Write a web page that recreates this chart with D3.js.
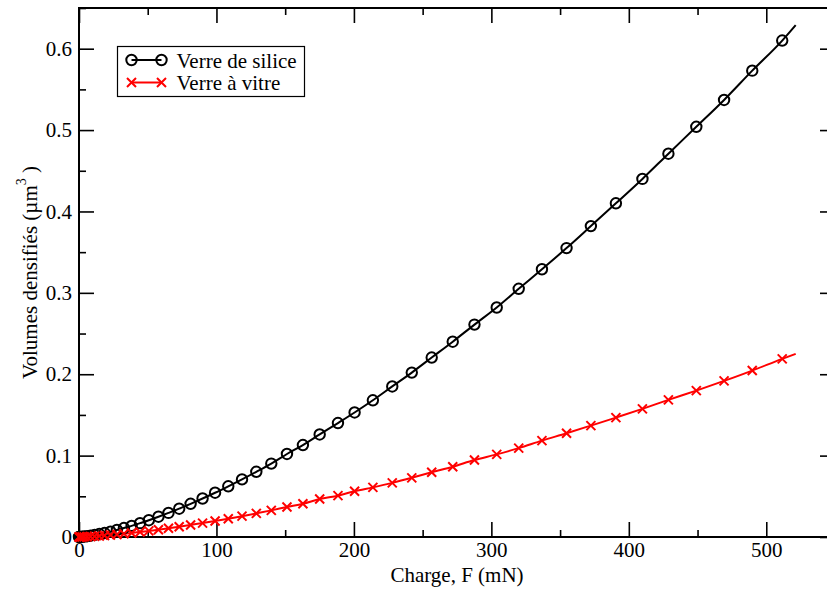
<!DOCTYPE html>
<html>
<head>
<meta charset="utf-8">
<script src="https://cdn.jsdelivr.net/npm/d3@7"></script>
<style>
  html, body { margin: 0; padding: 0; background: #fff; }
  svg { display: block; }
  svg text { font-family: "Liberation Serif", "DejaVu Serif", serif; }
</style>
</head>
<body>
<svg id="chart" width="827" height="589"></svg>
<script>
// Charge F (mN) at each measured point
const forceMN = [0, 0.3, 1.0, 2.2, 3.8, 5.9, 8.4, 11.4, 14.8, 18.6, 22.9, 27.6, 32.7, 38.3, 44.4, 50.8, 57.8, 65.1, 72.9, 81.2, 89.9, 99.0, 108.6, 118.6, 129.0, 139.9, 151.3, 162.9, 175.1, 188.4, 200.5, 213.8, 227.9, 242.1, 256.6, 271.9, 287.7, 303.9, 319.9, 336.8, 354.7, 372.4, 390.6, 409.9, 428.8, 449.1, 469.3, 489.8, 511.6];
// Volumes densifiés (µm³)
const silicaVolume = [0, 0.00002, 0.0001, 0.00026, 0.00055, 0.00099, 0.0016, 0.0025, 0.0036, 0.0049, 0.0066, 0.0086, 0.0110, 0.0137, 0.0170, 0.0206, 0.0249, 0.0296, 0.0348, 0.0408, 0.0473, 0.0544, 0.0623, 0.0708, 0.0801, 0.0902, 0.102, 0.113, 0.126, 0.140, 0.153, 0.168, 0.185, 0.202, 0.2205, 0.240, 0.261, 0.282, 0.305, 0.329, 0.355, 0.382, 0.410, 0.440, 0.471, 0.504, 0.537, 0.573, 0.610];
const windowVolume = [0, 0.00001, 0.00004, 0.0001, 0.0002, 0.00036, 0.00058, 0.0009, 0.0013, 0.0018, 0.0024, 0.0031, 0.0040, 0.0050, 0.0062, 0.0075, 0.0090, 0.0107, 0.0126, 0.0148, 0.0171, 0.0197, 0.0225, 0.0256, 0.0290, 0.0327, 0.0369, 0.0409, 0.0466, 0.0508, 0.0562, 0.0610, 0.0665, 0.0727, 0.0795, 0.0864, 0.0946, 0.1015, 0.1092, 0.1184, 0.1275, 0.1369, 0.1467, 0.1574, 0.1685, 0.1799, 0.1918, 0.2045, 0.2189];
// the drawn curves run a little past the last marker
const curveEndForce = 521.4;
const curveEndSilica = 0.629;
const curveEndWindow = 0.225;

const seriesNames = ["Verre de silice", "Verre à vitre"];
const xMajorTicks = [0, 100, 200, 300, 400, 500];
const xMinorTicks = [50, 150, 250, 350, 450, 550];
const yMajorTicks = [0, 0.1, 0.2, 0.3, 0.4, 0.5, 0.6];
const yMinorTicks = [0.05, 0.15, 0.25, 0.35, 0.45, 0.55, 0.65];
const yTickLabels = ["0", "0.1", "0.2", "0.3", "0.4", "0.5", "0.6"];
const xTickLabels = ["0", "100", "200", "300", "400", "500"];

const FONT = "'Liberation Serif', 'DejaVu Serif', serif";
const svg = d3.select("#chart");
const L = 79, R = 835, T = 8, B = 537;
const x = d3.scaleLinear().domain([0, 550]).range([L, R]);
const y = d3.scaleLinear().domain([0, 0.65]).range([B, T]);

const fontSize = 21;

// axes (ticks point inward, mirrored on all four sides)
function styleAxis(g) {
  g.attr("font-family", FONT);
  g.select(".domain").remove();
  g.selectAll(".tick line").attr("stroke", "#000").attr("stroke-width", 1.6);
  g.selectAll("text").attr("font-size", fontSize).attr("fill", "#000")
    .style("font-family", FONT);
}
svg.append("g").attr("transform", `translate(0,${B})`)
  .call(d3.axisBottom(x).tickValues(xMajorTicks).tickSizeInner(-15).tickSizeOuter(0).tickPadding(5)
    .tickFormat((d, i) => xTickLabels[i])).call(styleAxis);
svg.append("g").attr("transform", `translate(0,${B})`)
  .call(d3.axisBottom(x).tickValues(xMinorTicks).tickSizeInner(-7).tickSizeOuter(0).tickFormat("")).call(styleAxis);
svg.append("g").attr("transform", `translate(0,${T})`)
  .call(d3.axisTop(x).tickValues(xMajorTicks).tickSizeInner(-15).tickSizeOuter(0).tickFormat("")).call(styleAxis);
svg.append("g").attr("transform", `translate(0,${T})`)
  .call(d3.axisTop(x).tickValues(xMinorTicks).tickSizeInner(-7).tickSizeOuter(0).tickFormat("")).call(styleAxis);
svg.append("g").attr("transform", `translate(${L},0)`)
  .call(d3.axisLeft(y).tickValues(yMajorTicks).tickSizeInner(-15).tickSizeOuter(0).tickPadding(7)
    .tickFormat((d, i) => yTickLabels[i])).call(styleAxis);
svg.append("g").attr("transform", `translate(${L},0)`)
  .call(d3.axisLeft(y).tickValues(yMinorTicks).tickSizeInner(-7).tickSizeOuter(0).tickFormat("")).call(styleAxis);
svg.append("g").attr("transform", `translate(${R},0)`)
  .call(d3.axisRight(y).tickValues(yMajorTicks).tickSizeInner(-15).tickSizeOuter(0).tickFormat("")).call(styleAxis);
svg.append("g").attr("transform", `translate(${R},0)`)
  .call(d3.axisRight(y).tickValues(yMinorTicks).tickSizeInner(-7).tickSizeOuter(0).tickFormat("")).call(styleAxis);

// frame
svg.append("rect").attr("x", L).attr("y", T).attr("width", R - L).attr("height", B - T)
  .attr("fill", "none").attr("stroke", "#000").attr("stroke-width", 2);

// axis titles
svg.append("text").attr("x", (L + R) / 2).attr("y", 582).attr("text-anchor", "middle")
  .style("font-family", FONT).attr("font-size", fontSize).text("Charge, F (mN)");
const yt = svg.append("text").attr("transform", `translate(37,${(T + B) / 2}) rotate(-90)`)
  .attr("text-anchor", "middle").style("font-family", FONT).attr("font-size", fontSize);
yt.append("tspan").text("Volumes densifiés (µm");
yt.append("tspan").attr("font-size", 14).attr("dy", -11).text("3");
yt.append("tspan").attr("dy", 11).text(" )");

// data
const silicaPts = forceMN.map((f, i) => [f, silicaVolume[i]]);
const windowPts = forceMN.map((f, i) => [f, windowVolume[i]]);
const line = d3.line().x(d => x(d[0])).y(d => y(d[1])).curve(d3.curveMonotoneX);

svg.append("path").datum(silicaPts.concat([[curveEndForce, curveEndSilica]]))
  .attr("d", line).attr("fill", "none").attr("stroke", "#000").attr("stroke-width", 2);
svg.append("path").datum(windowPts.concat([[curveEndForce, curveEndWindow]]))
  .attr("d", line).attr("fill", "none").attr("stroke", "#ff0000").attr("stroke-width", 2);

svg.append("g").selectAll("circle").data(silicaPts).join("circle")
  .attr("cx", d => x(d[0])).attr("cy", d => y(d[1])).attr("r", 5.2)
  .attr("fill", "none").attr("stroke", "#000").attr("stroke-width", 2);

const cross = (cx, cy, s) => `M${cx - s},${cy - s}L${cx + s},${cy + s}M${cx - s},${cy + s}L${cx + s},${cy - s}`;
svg.append("g").selectAll("path").data(windowPts).join("path")
  .attr("d", d => cross(x(d[0]), y(d[1]), 4.5))
  .attr("fill", "none").attr("stroke", "#ff0000").attr("stroke-width", 2);

// legend
const lg = svg.append("g");
lg.append("rect").attr("x", 117.5).attr("y", 46.5).attr("width", 187).attr("height", 50)
  .attr("fill", "#fff").attr("stroke", "#000").attr("stroke-width", 1.2);
lg.append("line").attr("x1", 131.5).attr("x2", 161.5).attr("y1", 60).attr("y2", 60)
  .attr("stroke", "#000").attr("stroke-width", 2);
[131.5, 161.5].forEach(cx => lg.append("circle").attr("cx", cx).attr("cy", 60).attr("r", 5.2)
  .attr("fill", "none").attr("stroke", "#000").attr("stroke-width", 2));
lg.append("line").attr("x1", 131.5).attr("x2", 161.5).attr("y1", 82.5).attr("y2", 82.5)
  .attr("stroke", "#ff0000").attr("stroke-width", 2);
[131.5, 161.5].forEach(cx => lg.append("path").attr("d", cross(cx, 82.5, 4.5))
  .attr("fill", "none").attr("stroke", "#ff0000").attr("stroke-width", 2));
lg.append("text").attr("x", 176.5).attr("y", 67.5).style("font-family", FONT).attr("font-size", fontSize).text(seriesNames[0]);
lg.append("text").attr("x", 176.5).attr("y", 90).style("font-family", FONT).attr("font-size", fontSize).text(seriesNames[1]);
</script>
</body>
</html>
